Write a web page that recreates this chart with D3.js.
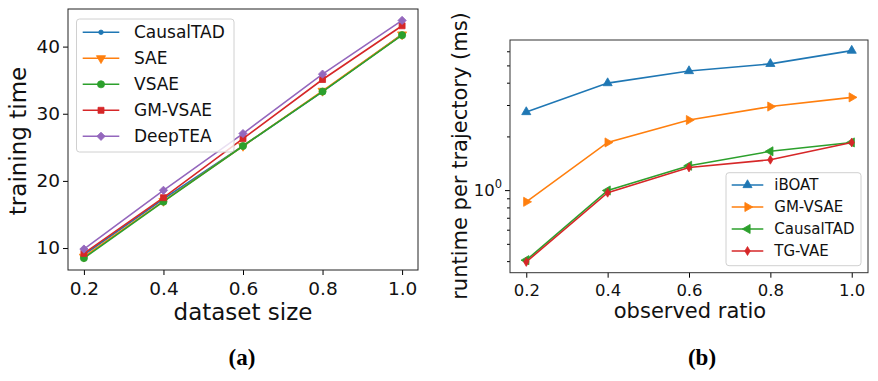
<!DOCTYPE html>
<html>
<head>
<meta charset="utf-8">
<script src="https://cdn.jsdelivr.net/npm/d3@7"></script>
<style>
body { margin: 0; background: #fff; }
svg { display: block; font-family: 'DejaVu Sans', sans-serif; }
</style>
</head>
<body>
<script>
// (a) training time vs dataset size
const datasetSizes = [0.2, 0.4, 0.6, 0.8, 1.0]
const trainCausalTAD = [9.0, 17.3, 25.2, 33.3, 41.8]
const trainSAE = [8.7, 17.0, 25.2, 33.4, 41.8]
const trainVSAE = [8.5, 16.9, 25.2, 33.3, 41.7]
const trainGMVSAE = [9.2, 17.5, 26.3, 35.1, 43.1]
const trainDeepTEA = [9.85, 18.6, 27.05, 35.9, 43.9]
const trainTicks = [10, 20, 30, 40]

// (b) runtime vs observed ratio (log y)
const observedRatios = [0.2, 0.4, 0.6, 0.8, 1.0]
const runIBOAT = [2.74, 3.98, 4.65, 5.1, 6.05]
const runGMVSAE = [0.86, 1.85, 2.47, 2.94, 3.31]
const runCausalTAD = [0.405, 0.995, 1.37, 1.65, 1.85]
const runTGVAE = [0.396, 0.967, 1.34, 1.48, 1.85]
const xTickLabels = ['0.2', '0.4', '0.6', '0.8', '1.0']

const svg = d3.select('body').append('svg').attr('width', 878).attr('height', 381)

// marker paths
function marker(g, type, color) {
    let p
    if (type === 'point') p = g.append('path').attr('d', d3.symbol(d3.symbolCircle, 16)())
    if (type === 'circle') p = g.append('path').attr('d', d3.symbol(d3.symbolCircle, 40)())
    if (type === 'square') p = g.append('path').attr('d', d3.symbol(d3.symbolSquare, 36)())
    if (type === 'diamond') p = g.append('path').attr('d', d3.symbol(d3.symbolSquare, 34)()).attr('transform', 'rotate(45)')
    if (type === 'thin') p = g.append('path').attr('d', d3.symbol(d3.symbolSquare, 40)()).attr('transform', 'scale(0.6,1) rotate(45)')
    if (type === 'up') p = g.append('path').attr('d', d3.symbol(d3.symbolTriangle, 36)())
    if (type === 'down') p = g.append('path').attr('d', d3.symbol(d3.symbolTriangle, 36)()).attr('transform', 'rotate(180)')
    if (type === 'right') p = g.append('path').attr('d', d3.symbol(d3.symbolTriangle, 36)()).attr('transform', 'rotate(90)')
    if (type === 'left') p = g.append('path').attr('d', d3.symbol(d3.symbolTriangle, 36)()).attr('transform', 'rotate(-90)')
    p.attr('fill', color).attr('stroke', color).attr('stroke-width', 0.8)
}

function drawSeries(xs, ys, list) {
    list.forEach(function(s) {
        const pts = xs.map(function(d, i) { return [d, s.values[i]] })
        svg.append('path')
            .datum(pts)
            .attr('fill', 'none')
            .attr('stroke', s.color)
            .attr('stroke-width', 1.6)
            .attr('d', d3.line().x(function(d) { return xs.scale(d[0]) }).y(function(d) { return ys(d[1]) }))
        pts.forEach(function(d) {
            const g = svg.append('g').attr('transform', 'translate(' + xs.scale(d[0]) + ',' + ys(d[1]) + ')')
            marker(g, s.marker, s.color)
        })
    })
}

function drawLegend(list, x0, y0, w, h, rowY0, rowGap, fontSize, lineX1, lineX2, textX) {
    svg.append('rect')
        .attr('x', x0).attr('y', y0).attr('width', w).attr('height', h)
        .attr('rx', 3)
        .attr('fill', 'white').attr('fill-opacity', 0.8)
        .attr('stroke', '#d0d0d0').attr('stroke-width', 1)
    list.forEach(function(s, i) {
        const y = rowY0 + i * rowGap
        svg.append('line')
            .attr('x1', lineX1).attr('x2', lineX2).attr('y1', y).attr('y2', y)
            .attr('stroke', s.color).attr('stroke-width', 1.6)
        const g = svg.append('g').attr('transform', 'translate(' + ((lineX1 + lineX2) / 2) + ',' + y + ')')
        marker(g, s.marker, s.color)
        svg.append('text')
            .attr('x', textX).attr('y', y)
            .attr('dominant-baseline', 'central')
            .attr('font-size', fontSize)
            .attr('fill', '#111')
            .text(s.name)
    })
}

// ---------- panel (a) ----------
const xA = d3.scaleLinear().domain([0.16, 1.04]).range([68, 418])
const yA = d3.scaleLinear().domain([6.73, 45.6]).range([270, 9])

const seriesA = [
    { name: 'CausalTAD', values: trainCausalTAD, color: '#1f77b4', marker: 'point' },
    { name: 'SAE', values: trainSAE, color: '#ff7f0e', marker: 'down' },
    { name: 'VSAE', values: trainVSAE, color: '#2ca02c', marker: 'circle' },
    { name: 'GM-VSAE', values: trainGMVSAE, color: '#d62728', marker: 'square' },
    { name: 'DeepTEA', values: trainDeepTEA, color: '#9467bd', marker: 'diamond' }
]

const xsA = datasetSizes.slice(); xsA.scale = xA
drawSeries(xsA, yA, seriesA)

svg.append('g')
    .attr('transform', 'translate(0,270)')
    .call(d3.axisBottom(xA).tickValues(datasetSizes).tickFormat(function(d, i) { return xTickLabels[i] }).tickSize(5).tickSizeOuter(0))
    .call(function(g) { g.select('.domain').remove() })
    .selectAll('text').attr('font-size', 18.5).attr('fill', '#111').attr('dy', '0.9em').attr('font-family', 'DejaVu Sans')

svg.append('g')
    .attr('transform', 'translate(68,0)')
    .call(d3.axisLeft(yA).tickValues(trainTicks).tickSize(5).tickSizeOuter(0))
    .call(function(g) { g.select('.domain').remove() })
    .selectAll('text').attr('font-size', 18.5).attr('fill', '#111').attr('font-family', 'DejaVu Sans')

svg.append('rect')
    .attr('x', 68).attr('y', 9).attr('width', 350).attr('height', 261)
    .attr('fill', 'none').attr('stroke', '#222').attr('stroke-width', 1)

drawLegend(seriesA, 76.5, 19, 157.5, 133, 32.3, 26, 17, 82.7, 119.3, 134)

svg.append('text')
    .attr('x', 243).attr('y', 320)
    .attr('text-anchor', 'middle')
    .attr('font-size', 23)
    .attr('fill', '#111')
    .text('dataset size')

svg.append('text')
    .attr('transform', 'translate(26,141) rotate(-90)')
    .attr('text-anchor', 'middle')
    .attr('font-size', 23)
    .attr('fill', '#111')
    .text('training time')

// ---------- panel (b) ----------
const xB = d3.scaleLinear().domain([0.16, 1.04]).range([510, 868])
const yB = d3.scaleLog().domain([0.3445, 6.94]).range([272.7, 40])

const seriesB = [
    { name: 'iBOAT', values: runIBOAT, color: '#1f77b4', marker: 'up' },
    { name: 'GM-VSAE', values: runGMVSAE, color: '#ff7f0e', marker: 'right' },
    { name: 'CausalTAD', values: runCausalTAD, color: '#2ca02c', marker: 'left' },
    { name: 'TG-VAE', values: runTGVAE, color: '#d62728', marker: 'thin' }
]

const xsB = observedRatios.slice(); xsB.scale = xB
drawSeries(xsB, yB, seriesB)

svg.append('g')
    .attr('transform', 'translate(0,272.7)')
    .call(d3.axisBottom(xB).tickValues(observedRatios).tickFormat(function(d, i) { return xTickLabels[i] }).tickSize(5).tickSizeOuter(0))
    .call(function(g) { g.select('.domain').remove() })
    .selectAll('text').attr('font-size', 16.5).attr('fill', '#111').attr('dy', '0.9em').attr('font-family', 'DejaVu Sans')

// minor log ticks
const minorB = [0.4, 0.5, 0.6, 0.7, 0.8, 0.9, 2, 3, 4, 5, 6]
svg.append('g')
    .attr('transform', 'translate(510,0)')
    .call(d3.axisLeft(yB).tickValues(minorB).tickSize(3).tickFormat('').tickSizeOuter(0))
    .call(function(g) { g.select('.domain').remove() })

const majorB = svg.append('g')
    .attr('transform', 'translate(510,0)')
    .call(d3.axisLeft(yB).tickValues([1]).tickSize(5).tickFormat('').tickSizeOuter(0))
majorB.select('.domain').remove()
const lbl = majorB.append('text')
    .attr('x', -8).attr('y', yB(1) + 6)
    .attr('text-anchor', 'end')
    .attr('font-size', 16.5)
    .attr('fill', '#111')
    .attr('font-family', 'DejaVu Sans')
lbl.append('tspan').text('10')
lbl.append('tspan').attr('font-size', 11.5).attr('dy', -8).text('0')

svg.append('rect')
    .attr('x', 510).attr('y', 40).attr('width', 358).attr('height', 232.7)
    .attr('fill', 'none').attr('stroke', '#333').attr('stroke-width', 1)

drawLegend(seriesB, 726, 172.7, 135, 93, 185, 22, 15, 731.7, 763.3, 774.3)

svg.append('text')
    .attr('x', 690).attr('y', 318)
    .attr('text-anchor', 'middle')
    .attr('font-size', 21)
    .attr('fill', '#111')
    .text('observed ratio')

svg.append('text')
    .attr('transform', 'translate(467,156) rotate(-90)')
    .attr('text-anchor', 'middle')
    .attr('font-size', 21)
    .attr('fill', '#111')
    .text('runtime per trajectory (ms)')

// captions (serif, bold)
svg.append('text')
    .attr('x', 242).attr('y', 365)
    .attr('text-anchor', 'middle')
    .attr('font-family', "'Liberation Serif', 'Times New Roman', serif")
    .attr('font-weight', 'bold')
    .attr('font-size', 23)
    .attr('fill', '#000')
    .text('(a)')

svg.append('text')
    .attr('x', 702).attr('y', 365)
    .attr('text-anchor', 'middle')
    .attr('font-family', "'Liberation Serif', 'Times New Roman', serif")
    .attr('font-weight', 'bold')
    .attr('font-size', 23)
    .attr('fill', '#000')
    .text('(b)')
</script>
</body>
</html>
